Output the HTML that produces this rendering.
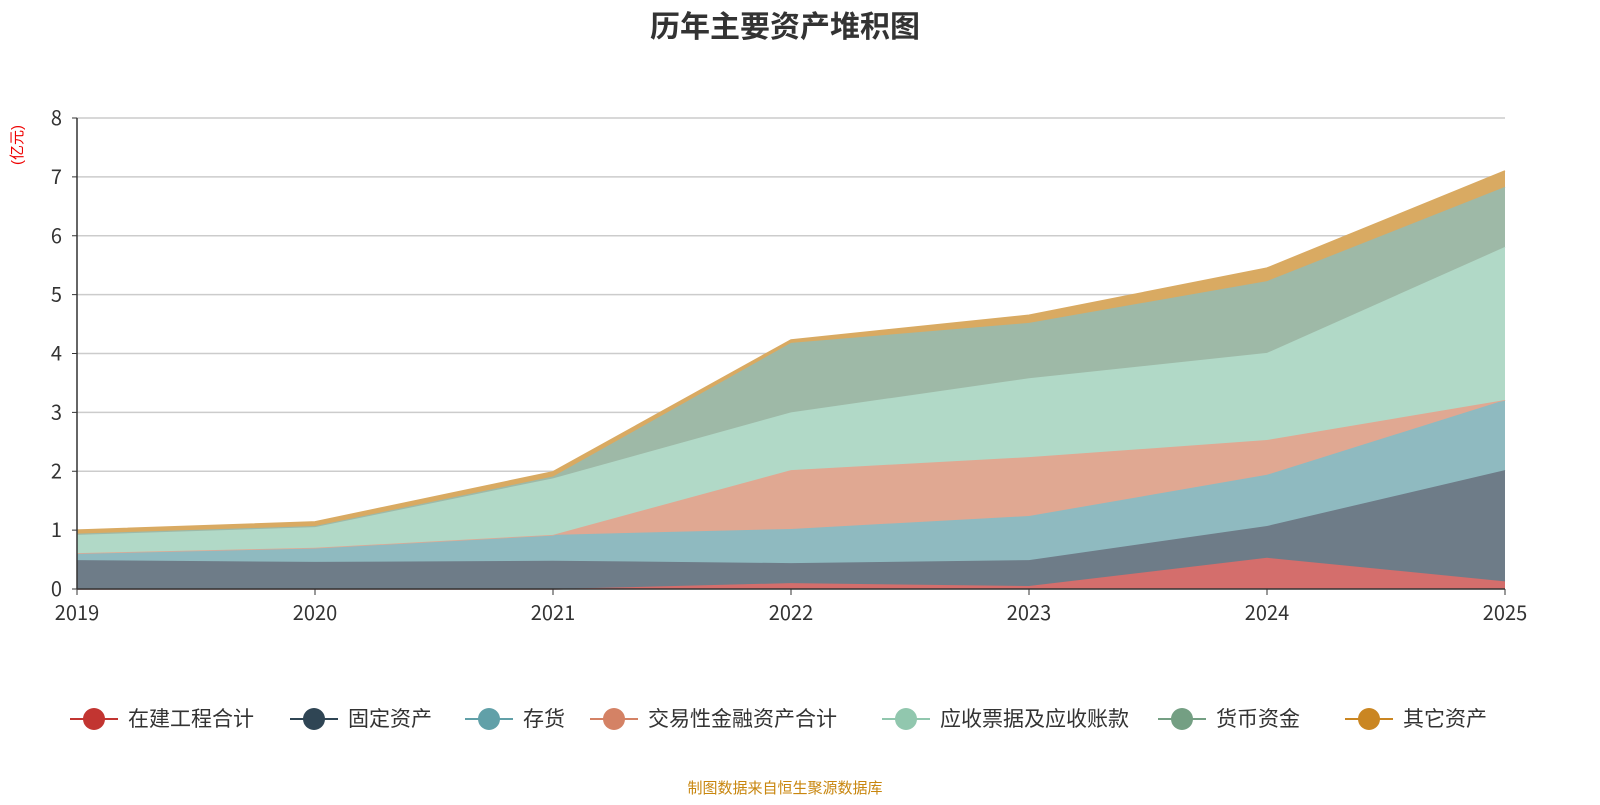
<!DOCTYPE html>
<html><head><meta charset="utf-8"><style>
body{margin:0;background:#fff;font-family:"Liberation Sans","Noto Sans CJK SC",sans-serif}
</style></head><body>
<svg id="c" width="1600" height="800" xmlns="http://www.w3.org/2000/svg">
<text x="785" y="37" text-anchor="middle" font-size="30" font-weight="bold" fill="#333" font-family="Liberation Sans,Noto Sans CJK SC,sans-serif">历年主要资产堆积图</text>
<text transform="translate(22,145) rotate(-90)" text-anchor="middle" font-size="15" fill="#e00" font-family="Liberation Sans,Noto Sans CJK SC,sans-serif">(亿元)</text>
<text x="785" y="793" text-anchor="middle" font-size="15" fill="#c8860e" font-family="Liberation Sans,Noto Sans CJK SC,sans-serif">制图数据来自恒生聚源数据库</text>
<g id="grid"></g><g id="areas"></g><g id="axes"></g><g id="legend"></g>
</svg>
<script>
const years=['2019','2020','2021','2022','2023','2024','2025'];
const seriesNames=['在建工程合计','固定资产','存货','交易性金融资产合计','应收票据及应收账款','货币资金','其它资产'];
const s0=[0,0,0,0.10,0.05,0.53,0.13];
const s1=[0.49,0.46,0.48,0.34,0.44,0.54,1.89];
const s2=[0.12,0.24,0.44,0.58,0.75,0.87,1.19];
const s3=[0,0,0,1.00,1.00,0.59,0];
const s4=[0.31,0.35,0.96,0.98,1.34,1.48,2.60];
const s5=[0.02,0.02,0.03,1.18,0.94,1.22,1.02];
const s6=[0.06,0.07,0.08,0.05,0.13,0.22,0.27];
const yTicks=[0,1,2,3,4,5,6,7,8];
const series=[s0,s1,s2,s3,s4,s5,s6];
const lineCol=['#c23531','#2f4554','#61a0a8','#d48265','#91c7ae','#749f83','#ca8622'];
const areaCol=['#d46e6c','#6e7c88','#8fbac0','#e0a892','#b1d9c7','#9eb9a7','#d9aa62'];
const NS='http://www.w3.org/2000/svg';
const X0=77,X1=1505,Y0=589,Y1=118;
const xs=i=>X0+(X1-X0)*i/(years.length-1);
const ys=v=>Y0-(Y0-Y1)*v/8;
function mk(t,a,p){const e=document.createElementNS(NS,t);for(const k in a)e.setAttribute(k,a[k]);p.appendChild(e);return e;}
const grid=document.getElementById('grid'),axes=document.getElementById('axes'),areas=document.getElementById('areas'),leg=document.getElementById('legend');
const TF='Noto Sans CJK SC,Liberation Sans,sans-serif';
yTicks.forEach(t=>{
 if(t>0){const l=mk('line',{x1:X0,x2:X1,y1:ys(t),y2:ys(t),stroke:'#ccc','stroke-width':1.5},grid);
 
 }
 const tx=mk('text',{x:62,y:ys(t)+7,'text-anchor':'end','font-size':20,fill:'#333','font-family':TF},axes);tx.textContent=t;
 
 
 mk('line',{x1:72,x2:X0,y1:ys(t),y2:ys(t),stroke:'#333'},axes);
});
mk('line',{x1:X0,x2:X0,y1:Y1,y2:Y0,stroke:'#333','stroke-width':1.5},axes);
mk('line',{x1:X0,x2:X1,y1:Y0,y2:Y0,stroke:'#333','stroke-width':1.5},axes);
years.forEach((y,i)=>{
 mk('line',{x1:xs(i),x2:xs(i),y1:Y0,y2:Y0+6,stroke:'#333'},axes);
 const tx=mk('text',{x:xs(i),y:620,'text-anchor':'middle','font-size':20,fill:'#333','font-family':TF},axes);tx.textContent=y;
 
 
});
let base=years.map(()=>0);
series.forEach((s,k)=>{
 const top=base.map((b,i)=>b+s[i]);
 let d='M'+top.map((v,i)=>xs(i)+','+ys(v)).join('L');
 for(let i=years.length-1;i>=0;i--)d+='L'+xs(i)+','+ys(base[i]);
 const p=mk('path',{d:d+'Z',fill:areaCol[k],stroke:'none'},areas);
 
 
 const ln=mk('polyline',{points:top.map((v,i)=>xs(i)+','+ys(v)).join(' '),fill:'none',stroke:areaCol[k],'stroke-width':1.5},areas);
 
 
 base=top;
});
const lx=[70,290,465,590,882,1158,1345];
seriesNames.forEach((n,k)=>{
 const g=mk('g',{},leg);
 
 
 mk('line',{x1:lx[k],x2:lx[k]+48,y1:719,y2:719,stroke:lineCol[k],'stroke-width':2},g);
 mk('circle',{cx:lx[k]+24,cy:719,r:11,fill:lineCol[k]},g);
 const t=mk('text',{x:lx[k]+58,y:726,'font-size':21,fill:'#333'},g);t.textContent=n;
});
</script>
</body></html>
